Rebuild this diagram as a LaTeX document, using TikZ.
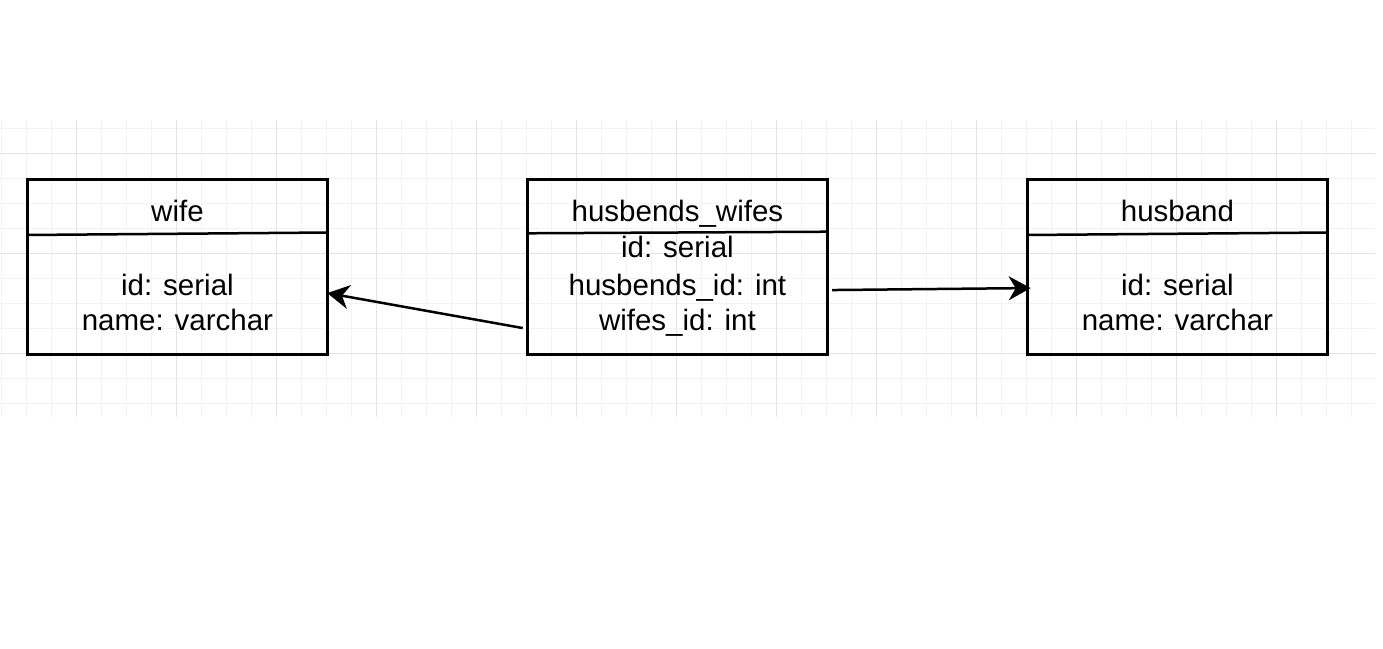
\documentclass[tikz,border=0pt]{standalone}
\usepackage{fontspec}
\setmainfont{Liberation Sans}
\usetikzlibrary{arrows.meta,calc}
\definecolor{gridmajor}{HTML}{E4E4E4}
\definecolor{gridminor}{HTML}{F3F3F3}
\tikzset{
  table/.style={draw=black, line width=2.5pt, minimum width=300pt, minimum height=175pt, inner sep=0pt, anchor=north west},
  sep/.style={line width=2.5pt},
  txt/.style={anchor=base, inner sep=0pt, font=\fontsize{29.5}{36}\selectfont},
  link/.style={line width=2.5pt, -{Stealth[length=22pt,width=24pt,inset=7pt]}},
}
\begin{document}
\begin{tikzpicture}[x=1pt,y=-1pt]
\useasboundingbox (0,0) rectangle (1383,648);
% grid
\foreach \x in {1.7,26.7,...,1375} \draw[gridminor,line width=1pt] (\x,120) -- (\x,417);
\foreach \y in {128.3,153.3,...,417} \draw[gridminor,line width=1pt] (0,\y) -- (1375,\y);
\foreach \x in {76.7,176.7,...,1375} \draw[gridmajor,line width=1pt] (\x,120) -- (\x,417);
\foreach \y in {153.3,253.3,353.3} \draw[gridmajor,line width=1pt] (0,\y) -- (1375,\y);
% tables
\node[table] (wife) at (26.2,178.3) {};
\node[table] (hw) at (526.2,178.3) {};
\node[table] (husband) at (1026.2,178.3) {};
\draw[sep] (wife.west |- 0,235) -- (wife.east |- 0,232.5);
\draw[sep] (hw.west |- 0,233.3) -- (hw.east |- 0,231.7);
\draw[sep] (husband.west |- 0,235) -- (husband.east |- 0,232.5);
% texts
\node[txt] (wifeT) at (wife.center |- 0,221.7) {wife};
\node[txt] (wifeA) at (wife.center |- 0,295) {id: serial};
\node[txt] (wifeB) at (wife.center |- 0,330) {name: varchar};
\node[txt] (hwT) at (hw.center |- 0,221.7) {husbends\_wifes};
\node[txt] (hwA) at (hw.center |- 0,257) {id: serial};
\node[txt] (hwB) at (hw.center |- 0,295) {husbends\_id: int};
\node[txt] (hwC) at (hw.center |- 0,330) {wifes\_id: int};
\node[txt] (husT) at (husband.center |- 0,221.7) {husband};
\node[txt] (husA) at (husband.center |- 0,295) {id: serial};
\node[txt] (husB) at (husband.center |- 0,330) {name: varchar};
% connectors
\draw[link] ($(hw.west)+(-3.5,61)$) -- ($(wife.east)+(-1.5,26)$);
\draw[link] ($(hw.east)+(3.5,23)$) -- ($(husband.west)+(4.5,21)$);
\end{tikzpicture}
\end{document}
